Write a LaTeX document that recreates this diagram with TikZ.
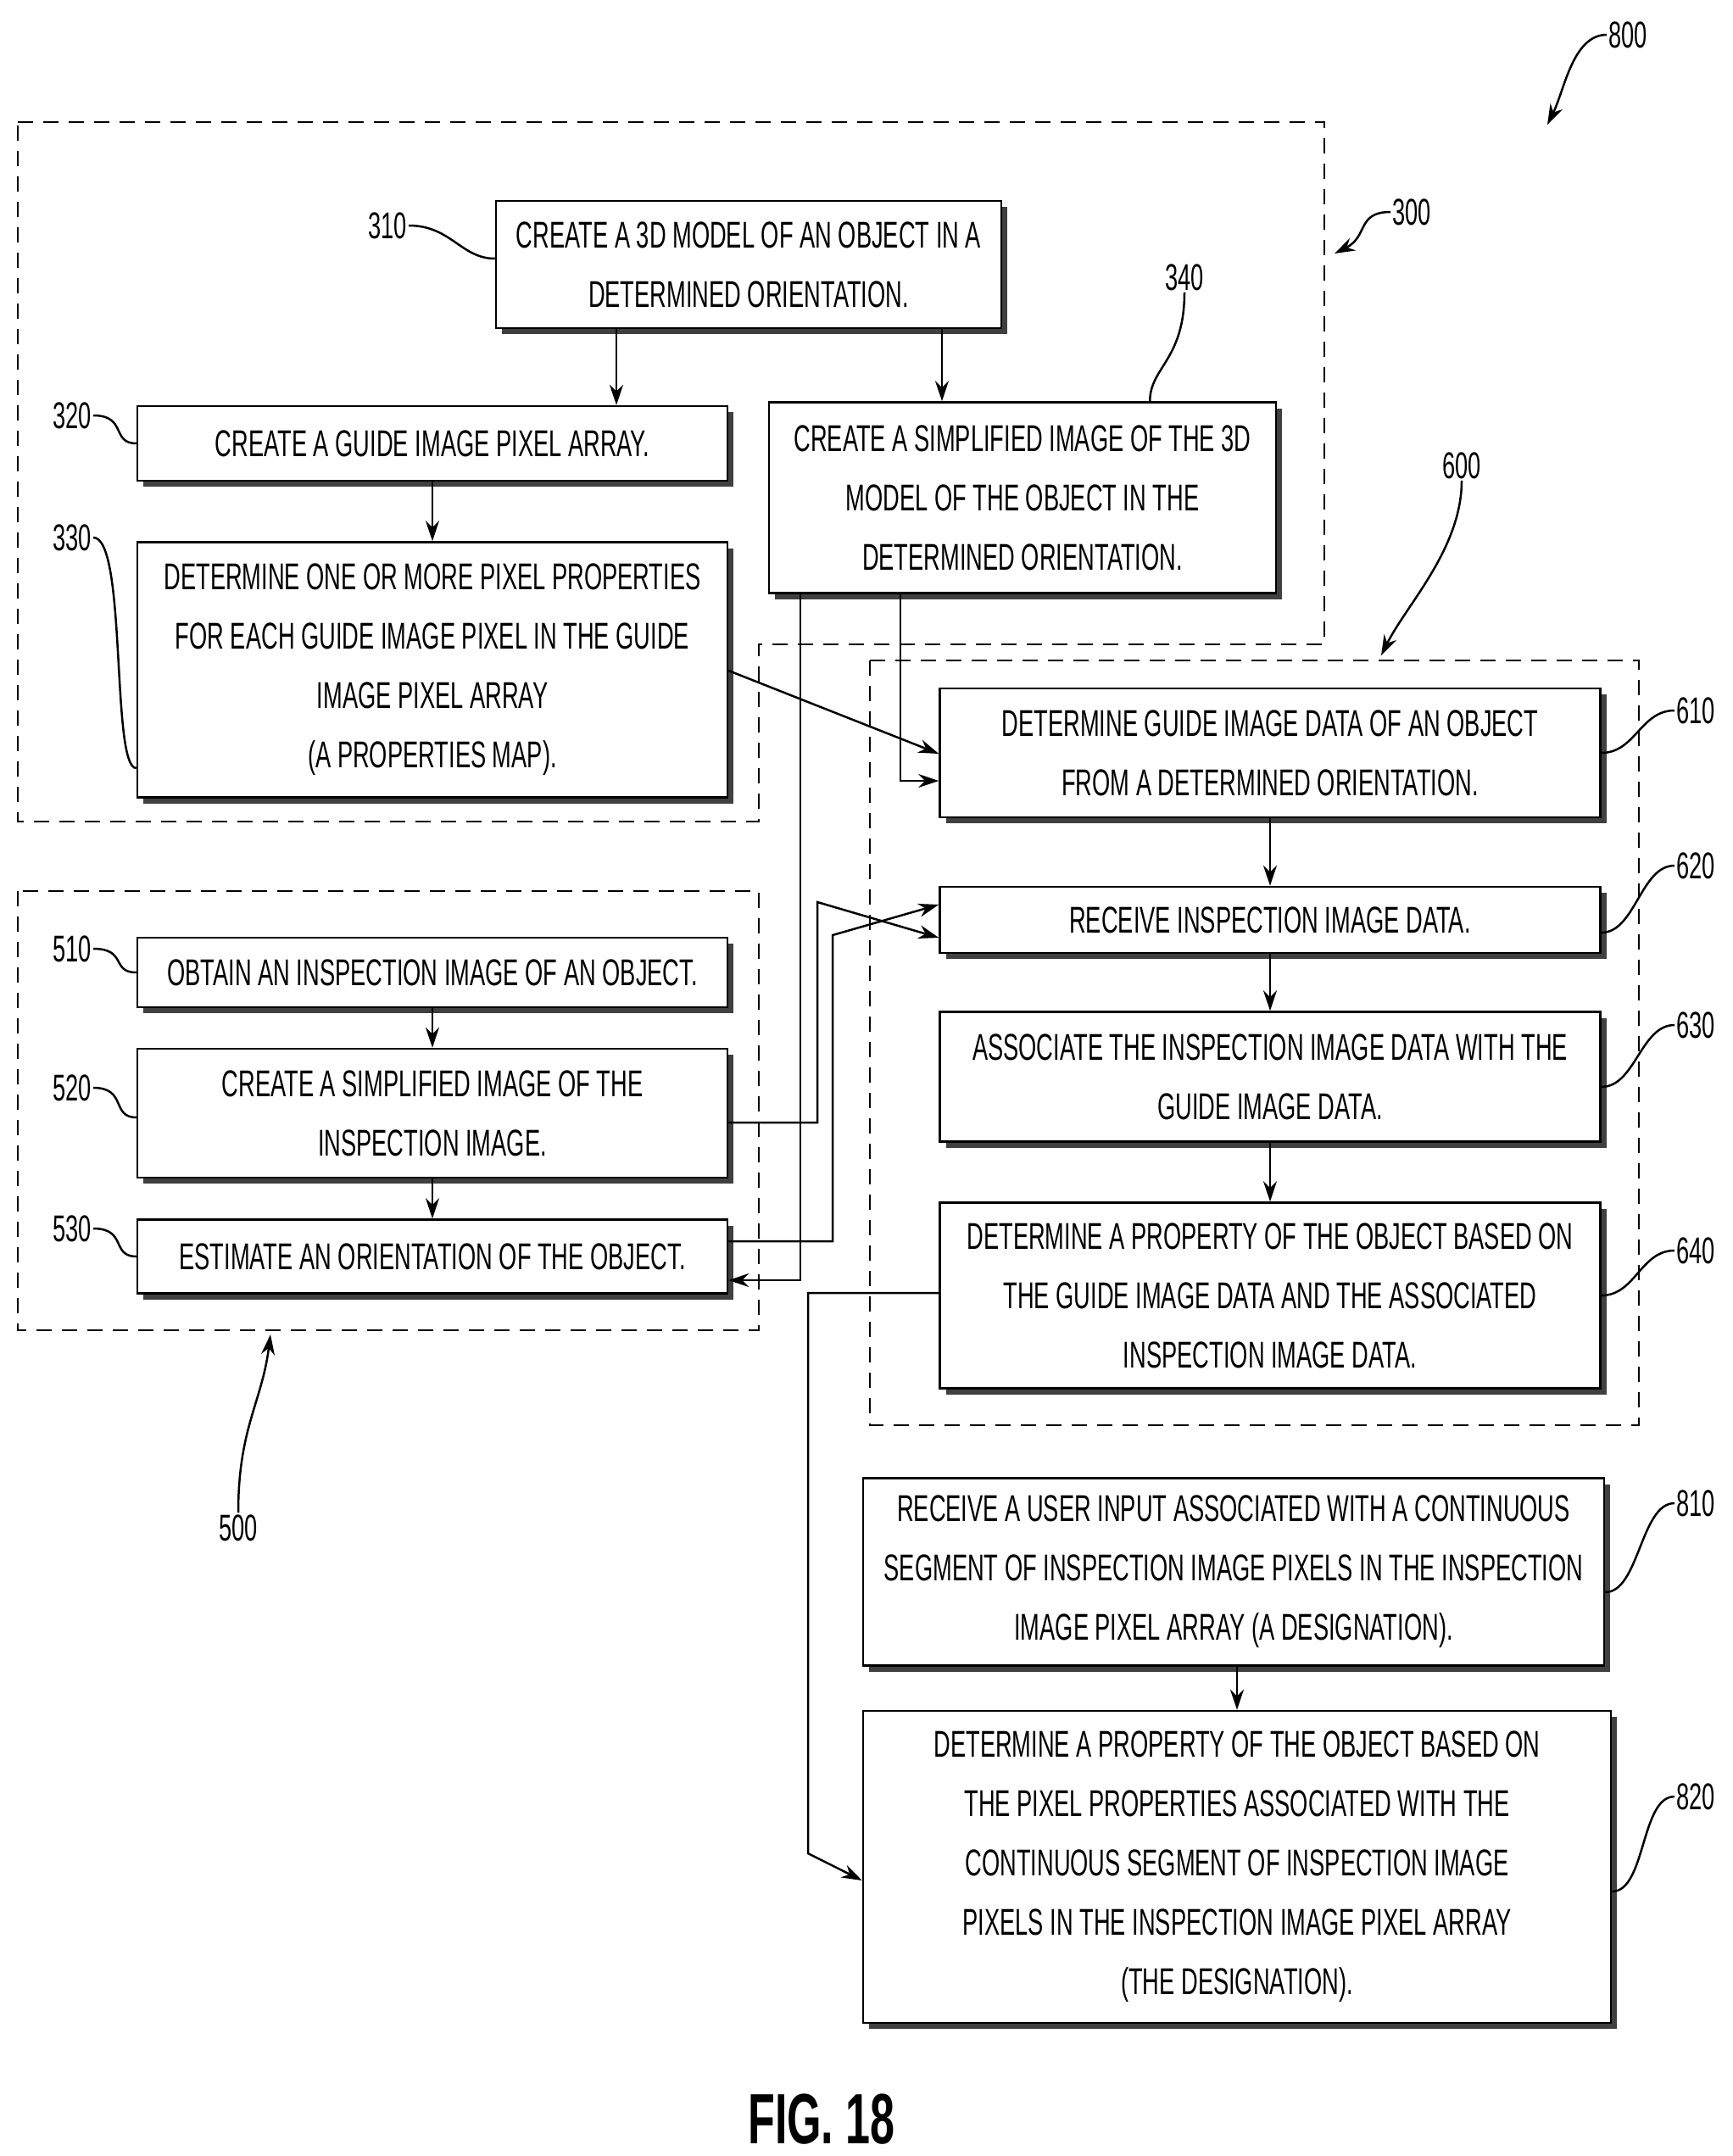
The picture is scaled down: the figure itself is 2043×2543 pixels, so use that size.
\documentclass[tikz,border=0pt]{standalone}
\usepackage{fontspec}
\setmainfont{Liberation Sans}[FakeStretch=0.62]
\usetikzlibrary{arrows.meta,shadows}
\tikzset{
  box/.style={draw, line width=2.5pt, fill=white, align=center, inner sep=0pt,
    font=\fontsize{44}{70}\selectfont,
    drop shadow={shadow xshift=7pt, shadow yshift=-7pt, fill=black!75, opacity=1}},
  grp/.style={line width=2pt, dash pattern=on 18pt off 12pt},
  arr/.style={line width=2.5pt, -{Stealth[length=24pt,width=16pt]}},
  ref/.style={font=\fontsize{44}{50}\selectfont, inner sep=2pt},
  lead/.style={line width=2.5pt},
}
\begin{document}
\begin{tikzpicture}[x=1pt,y=-1pt]
  \useasboundingbox (0,0) rectangle (2043,2543);
  % group outlines
  \draw[grp] (21,144) -- (1562,144) -- (1562,760) -- (895,760) -- (895,969) -- (21,969) -- cycle;
  \draw[grp] (21,1051) rectangle (895,1569);
  \draw[grp] (1026,779) rectangle (1933,1681);
  % process boxes
  \node[box, minimum width=596, minimum height=150] (n310) at (883,312) {CREATE A 3D MODEL OF AN OBJECT IN A\\DETERMINED ORIENTATION.};
  \node[box, minimum width=696, minimum height=88] (n320) at (510,523) {CREATE A GUIDE IMAGE PIXEL ARRAY.};
  \node[box, minimum width=696, minimum height=301] (n330) at (510,790) {DETERMINE ONE OR MORE PIXEL PROPERTIES\\FOR EACH GUIDE IMAGE PIXEL IN THE GUIDE\\IMAGE PIXEL ARRAY\\(A PROPERTIES MAP).};
  \node[box, minimum width=598, minimum height=225] (n340) at (1206,587) {CREATE A SIMPLIFIED IMAGE OF THE 3D\\MODEL OF THE OBJECT IN THE\\DETERMINED ORIENTATION.};
  \node[box, minimum width=696, minimum height=82] (n510) at (510,1147) {OBTAIN AN INSPECTION IMAGE OF AN OBJECT.};
  \node[box, minimum width=696, minimum height=152] (n520) at (510,1313) {CREATE A SIMPLIFIED IMAGE OF THE\\INSPECTION IMAGE.};
  \node[box, minimum width=696, minimum height=87] (n530) at (510,1482) {ESTIMATE AN ORIENTATION OF THE OBJECT.};
  \node[box, minimum width=779, minimum height=152] (n610) at (1498,888) {DETERMINE GUIDE IMAGE DATA OF AN OBJECT\\FROM A DETERMINED ORIENTATION.};
  \node[box, minimum width=779, minimum height=78] (n620) at (1498,1085) {RECEIVE INSPECTION IMAGE DATA.};
  \node[box, minimum width=779, minimum height=153] (n630) at (1498,1270) {ASSOCIATE THE INSPECTION IMAGE DATA WITH THE\\GUIDE IMAGE DATA.};
  \node[box, minimum width=779, minimum height=219] (n640) at (1498,1528) {DETERMINE A PROPERTY OF THE OBJECT BASED ON\\THE GUIDE IMAGE DATA AND THE ASSOCIATED\\INSPECTION IMAGE DATA.};
  \node[box, minimum width=874, minimum height=221] (n810) at (1455,1854) {RECEIVE A USER INPUT ASSOCIATED WITH A CONTINUOUS\\SEGMENT OF INSPECTION IMAGE PIXELS IN THE INSPECTION\\IMAGE PIXEL ARRAY (A DESIGNATION).};
  \node[box, minimum width=882, minimum height=368] (n820) at (1459,2202) {DETERMINE A PROPERTY OF THE OBJECT BASED ON\\THE PIXEL PROPERTIES ASSOCIATED WITH THE\\CONTINUOUS SEGMENT OF INSPECTION IMAGE\\PIXELS IN THE INSPECTION IMAGE PIXEL ARRAY\\(THE DESIGNATION).};
  % flow
  \draw[arr] ([xshift=-156pt]n310.south) -- ([xshift=217pt]n320.north);
  \draw[arr] ([xshift=228pt]n310.south) -- ([xshift=-95pt]n340.north);
  \draw[arr] (n320) -- (n330);
  \draw[arr] (n510) -- (n520);
  \draw[arr] (n520) -- (n530);
  \draw[arr] (n610) -- (n620);
  \draw[arr] (n620) -- (n630);
  \draw[arr] (n630) -- (n640);
  \draw[arr] ([xshift=4pt]n810.south) -- (n820.north);
  \draw[arr] ([xshift=-144pt]n340.south) |- ([yshift=-33pt]n610.west);
  \draw[arr] ([yshift=-1pt]n330.east) -- ([yshift=-1pt]n610.west);
  \draw[arr] ([xshift=-262pt]n340.south) |- ([yshift=-28pt]n530.east);
  \draw[arr] ([yshift=-11pt]n520.east) -| (964,1064) -- ([yshift=-21pt]n620.west);
  \draw[arr] ([yshift=18pt]n530.east) -| (982,1103) -- ([yshift=18pt]n620.west);
  \draw[arr] ([yshift=3pt]n640.west) -| (953,2186) -- ([yshift=-16pt]n820.west);
  % reference numerals
  \node[ref, anchor=east] (l310) at (482,266) {310};
  \node[ref, anchor=east] (l320) at (110,490) {320};
  \node[ref, anchor=east] (l330) at (110,634) {330};
  \node[ref] (l340) at (1397,327) {340};
  \node[ref, anchor=west] (l300) at (1640,250) {300};
  \node[ref] (l600) at (1724,549) {600};
  \node[ref, anchor=west] (l800) at (1895,41) {800};
  \node[ref] (l500) at (281,1802) {500};
  \node[ref, anchor=east] (l510) at (110,1119) {510};
  \node[ref, anchor=east] (l520) at (110,1283) {520};
  \node[ref, anchor=east] (l530) at (110,1449) {530};
  \node[ref, anchor=west] (l610) at (1975,838) {610};
  \node[ref, anchor=west] (l620) at (1975,1021) {620};
  \node[ref, anchor=west] (l630) at (1975,1209) {630};
  \node[ref, anchor=west] (l640) at (1975,1475) {640};
  \node[ref, anchor=west] (l810) at (1975,1773) {810};
  \node[ref, anchor=west] (l820) at (1975,2119) {820};
  \node[font=\fontsize{84}{90}\selectfont\bfseries] (fig) at (969,2500) {FIG. 18};
  % leaders
  \draw[lead] (l310.east) .. controls +(50,0) and +(-40,0) .. ([yshift=7pt]n310.west);
  \draw[lead] (l320.east) .. controls +(40,0) and +(-30,0) .. (n320.west);
  \draw[lead] (l330.east) .. controls +(40,0) and +(-30,0) .. ([yshift=-116pt]n330.west);
  \draw[lead] (l340.south) .. controls +(0,80) and +(0,-40) .. ([xshift=-150pt]n340.north east);
  \draw[lead] (l510.east) .. controls +(40,0) and +(-30,0) .. (n510.west);
  \draw[lead] (l520.east) .. controls +(40,0) and +(-30,0) .. ([yshift=-5pt]n520.west);
  \draw[lead] (l530.east) .. controls +(40,0) and +(-30,0) .. (n530.west);
  \draw[lead] (l610.west) .. controls +(-40,0) and +(40,0) .. (n610.east);
  \draw[lead] (l620.west) .. controls +(-40,0) and +(40,0) .. ([yshift=-15pt]n620.east);
  \draw[lead] (l630.west) .. controls +(-40,0) and +(40,0) .. ([yshift=-12pt]n630.east);
  \draw[lead] (l640.west) .. controls +(-40,0) and +(40,0) .. (n640.east);
  \draw[lead] (l810.west) .. controls +(-40,0) and +(40,0) .. ([yshift=-24pt]n810.east);
  \draw[lead] (l820.west) .. controls +(-40,0) and +(40,0) .. ([yshift=-29pt]n820.east);
  \coordinate (t300) at (1574,299);
  \coordinate (t600) at (1629,773);
  \coordinate (t800) at (1825,147);
  \coordinate (t500) at (319,1574);
  \draw[arr] (l300.west) .. controls +(-40,0) and +(40,-20) .. (t300);
  \draw[arr] (l600.south) .. controls +(0,80) and +(30,-60) .. (t600);
  \draw[arr] (l800.west) .. controls +(-40,0) and +(20,-40) .. (t800);
  \draw[arr] (l500.north) .. controls +(0,-100) and +(-10,80) .. (t500);
\end{tikzpicture}
\end{document}
